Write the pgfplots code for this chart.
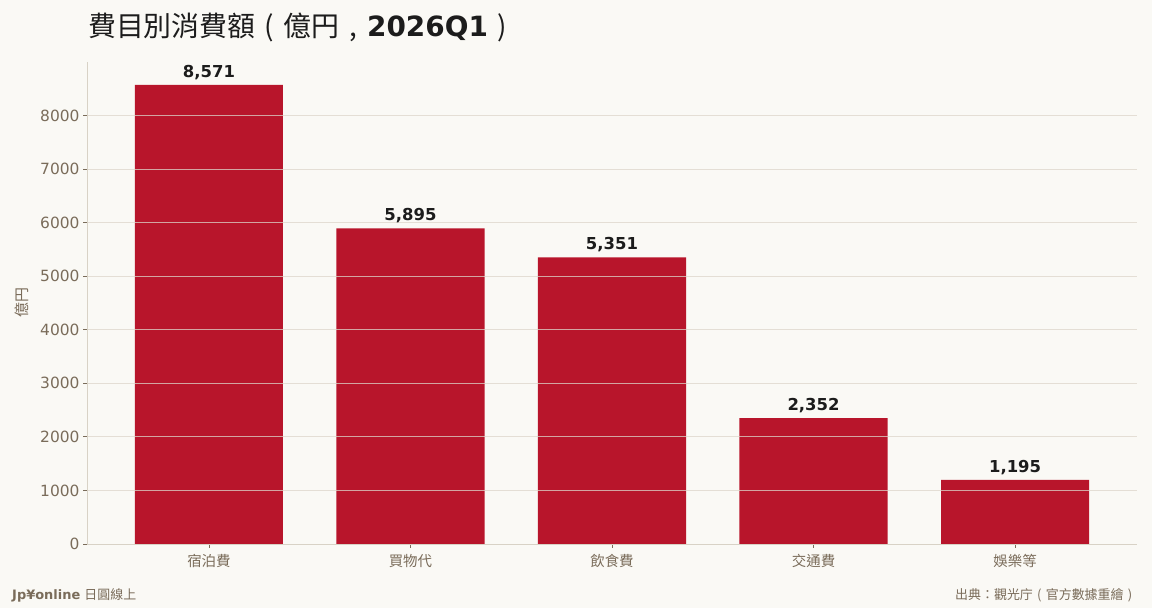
\documentclass[border=0pt]{standalone}
\usepackage{fontspec}
\usepackage{pgfplots}
\pgfplotsset{compat=1.18}
\setmainfont{DejaVu Sans}
\newfontfamily\cjk{Noto Sans CJK TC}
% centred punctuation in a full-width box
\newcommand\cbox[1]{\makebox[1em][c]{\cjk #1}}

\definecolor{bgcol}{HTML}{FAF9F5}
\definecolor{barcol}{HTML}{B8152B}
\definecolor{tickcol}{HTML}{7A6C5A}
\definecolor{spinecol}{HTML}{D8D2C6}
\definecolor{gridcol}{HTML}{DDD6CB}
\definecolor{titlecol}{HTML}{1C1C1C}

\begin{document}
\begin{tikzpicture}[x=1bp,y=1bp]
  % page background
  \fill[bgcol] (0,0) rectangle (1152,608);
  \path[use as bounding box] (0,0) rectangle (1152,608);

  \begin{axis}[
      at={(87bp,64bp)}, anchor=south west,
      scale only axis,
      width=1050bp, height=482bp,
      ybar, bar width=0.735,
      xmin=-0.605, xmax=4.605,
      ymin=0, ymax=9000,
      enlarge x limits=false, enlarge y limits=false,
      axis x line*=bottom, axis y line*=left,
      axis line style={spinecol, line width=0.8pt},
      axis on top,
      xtick=data,
      xticklabels={宿泊費,買物代,飲食費,交通費,娛樂等},
      xticklabel style={font=\cjk\fontsize{14.5}{17}\selectfont, text=tickcol, yshift=-3bp},
      ytick={0,1000,...,8000},
      yticklabel style={font=\fontsize{15.5}{18}\selectfont, text=tickcol,
        /pgf/number format/1000 sep={}, /pgf/number format/assume math mode=true},
      tick style={tickcol, line width=0.8pt},
      tick align=outside, major tick length=4bp,
      ymajorgrids,
      major grid style={gridcol, line width=0.8pt, opacity=0.75},
      ylabel={\cjk 億円},
      ylabel style={font=\fontsize{15}{18}\selectfont, text=tickcol,
        at={(axis description cs:-0.062,0.5)}, anchor=center},
      nodes near coords={\pgfmathprintnumber[1000 sep={,},assume math mode=true]{\pgfplotspointmeta}},
      nodes near coords style={font=\bfseries\fontsize{16.5}{19}\selectfont, text=titlecol, inner sep=2.5bp, yshift=2.5bp},
    ]
    \addplot[fill=barcol, draw=none] coordinates {
        (0,8571)
        (1,5895)
        (2,5351)
        (3,2352)
        (4,1195)
    };
  \end{axis}

  % title
  \node[anchor=west, text=titlecol, inner sep=0pt] at (88,581)
    {\fontsize{28}{32}\selectfont{\cjk 費目別消費額}\cbox{(}{\cjk 億円}\cbox{,}\textbf{2026Q1}\cbox{)}};

  % footers
  \node[anchor=west, text=tickcol, inner sep=0pt] at (12,13)
    {\fontsize{13}{15}\selectfont\textbf{Jp¥online} {\cjk 日圓線上}};
  \node[anchor=west, text=tickcol, inner sep=0pt] at (955,13)
    {\fontsize{13}{15}\selectfont{\cjk 出典：觀光庁}\cbox{(}{\cjk 官方數據重繪}\cbox{)}};
\end{tikzpicture}
\end{document}
